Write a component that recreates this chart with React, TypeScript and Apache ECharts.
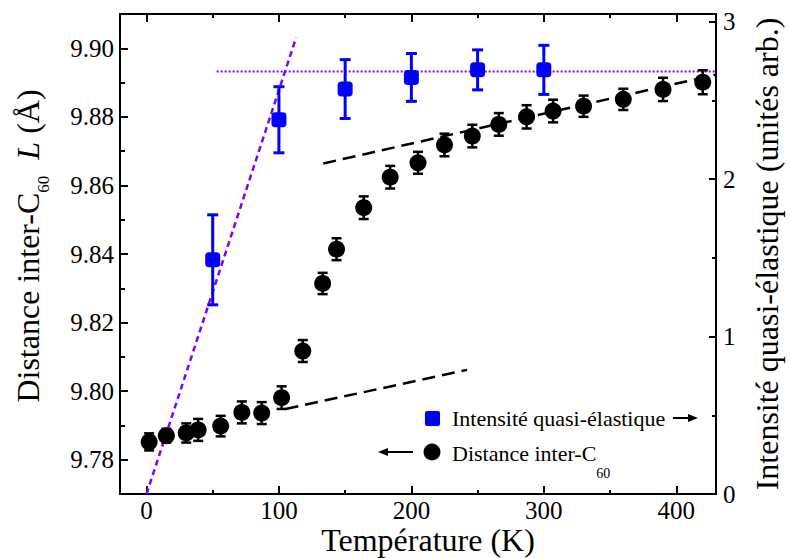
import React, { useEffect, useRef } from "react";
import * as echarts from "echarts";

const FONT = "Liberation Serif";
const PURPLE = "#8000ff";
const BLUE = "#0000ff";

// Distance inter-C60 (left axis)
const tempDistance = [2, 15, 30, 39, 56, 72, 87, 102, 118, 133, 143.5, 164, 184, 205, 225, 246, 266, 287, 307, 330, 360, 390, 420];
const distance = [9.7852, 9.787, 9.7878, 9.7887, 9.7898, 9.7938, 9.7936, 9.7981, 9.8117, 9.8314, 9.8414, 9.8535, 9.8624, 9.8666, 9.8718, 9.8744, 9.8778, 9.88, 9.8817, 9.8831, 9.8851, 9.888, 9.8901];
const distanceErr = [0.0025, 0.002, 0.0028, 0.0032, 0.003, 0.0032, 0.0032, 0.0033, 0.0032, 0.0031, 0.0032, 0.0033, 0.0033, 0.0032, 0.0033, 0.0033, 0.0033, 0.0034, 0.0033, 0.0031, 0.0031, 0.0034, 0.0035];

// Intensité quasi-élastique (right axis)
const tempIntensity = [50, 100, 150, 200, 250, 300];
const intensity = [1.488, 2.378, 2.573, 2.647, 2.695, 2.695];
const intensityErr = [0.286, 0.21, 0.187, 0.152, 0.127, 0.156];

// Guide lines
const lowerFitX = [105, 242];
const lowerFitY = [9.7948, 9.8062];
const upperFitX = [133.5, 430];
const upperFitY = [9.8664, 9.8923];
const steepFitX = [0, 113];
const steepFitY = [0, 2.9];
const plateauX = [53, 430];
const plateauY = [2.685, 2.685];

// Axis ranges and ticks
const X_MIN = -20;
const X_MAX = 430;
const YL_MIN = 9.77;
const YL_MAX = 9.91;
const YR_MIN = 0;
const YR_MAX = 3.05;
const xMajor = [0, 100, 200, 300, 400];
const xMinor = [50, 150, 250, 350];
const yLeftMajor = [9.78, 9.8, 9.82, 9.84, 9.86, 9.88, 9.9];
const yLeftMinor = [9.79, 9.81, 9.83, 9.85, 9.87, 9.89];
const yRightMajor = [0, 1, 2, 3];
const yRightMinor = [0.5, 1.5, 2.5];

const zip = (a: number[], b: number[]) => a.map((v, i) => [v, b[i]]);
const zip3 = (a: number[], b: number[], c: number[]) => a.map((v, i) => [v, b[i], c[i]]);

const axisLineStyle = { color: "#000", width: 2 };

const makeErr = (color: string, width: number, cap: number) => (params: any, api: any) => {
  const x = api.value(0);
  const y = api.value(1);
  const e = api.value(2);
  const t = api.coord([x, y + e]);
  const b = api.coord([x, y - e]);
  const st = { stroke: color, lineWidth: width };
  return {
    type: "group",
    children: [
      { type: "line", shape: { x1: t[0], y1: t[1], x2: b[0], y2: b[1] }, style: st },
      { type: "line", shape: { x1: t[0] - cap / 2, y1: t[1], x2: t[0] + cap / 2, y2: t[1] }, style: st },
      { type: "line", shape: { x1: b[0] - cap / 2, y1: b[1], x2: b[0] + cap / 2, y2: b[1] }, style: st },
    ],
  };
};

const labelStyle = (margin: number, fmt: (v: number) => string, ticks: number[]) => ({
  show: true,
  customValues: ticks,
  color: "#000",
  fontSize: 25,
  fontFamily: FONT,
  margin,
  formatter: fmt,
});

function xAxisDef(position: string, ticks: number[], len: number, showLine: boolean, labels: boolean) {
  const a: any = {
    type: "value",
    position,
    min: X_MIN,
    max: X_MAX,
    splitLine: { show: false },
    axisLine: { show: showLine, onZero: false, lineStyle: axisLineStyle },
    axisTick: { show: true, inside: true, length: len, customValues: ticks, lineStyle: { color: "#000", width: 2 } },
    axisLabel: labels ? labelStyle(4, (v) => String(v), ticks) : { show: false },
    nameMoveOverlap: false,
  };
  return a;
}

function yAxisDef(position: string, min: number, max: number, ticks: number[], len: number, showLine: boolean, labels: boolean, fmt?: (v: number) => string) {
  const a: any = {
    type: "value",
    position,
    min,
    max,
    splitLine: { show: false },
    axisLine: { show: showLine, onZero: false, lineStyle: axisLineStyle },
    axisTick: { show: true, inside: true, length: len, customValues: ticks, lineStyle: { color: "#000", width: 2 } },
    axisLabel: labels ? labelStyle(position === "left" ? 6 : 7, fmt || ((v) => String(v)), ticks) : { show: false },
    nameMoveOverlap: false,
  };
  return a;
}

const xAxes = [
  {
    ...xAxisDef("bottom", xMajor, 8, true, true),
    name: "Température (K)",
    nameLocation: "middle",
    nameGap: 30,
    nameTextStyle: { fontSize: 32, fontFamily: FONT, color: "#000", padding: [0, 0, 0, 20] },
  },
  xAxisDef("top", xMajor, 8, true, false),
  xAxisDef("bottom", xMinor, 4, false, false),
  xAxisDef("top", xMinor, 4, false, false),
];

const yAxes = [
  {
    ...yAxisDef("left", YL_MIN, YL_MAX, yLeftMajor, 8, true, true, (v: number) => v.toFixed(2)),
    name: "{n|Distance inter-C}{s|60}{n|  }{i|L}{n| (Å)}",
    nameLocation: "middle",
    nameRotate: 90,
    nameGap: 68,
    nameTextStyle: {
      color: "#000",
      fontSize: 32,
      fontFamily: FONT,
      padding: [0, 0, 0, 16],
      rich: {
        n: { fontSize: 32, fontFamily: FONT, color: "#000", verticalAlign: "middle" },
        i: { fontSize: 32, fontFamily: FONT, color: "#000", fontStyle: "italic", verticalAlign: "middle" },
        s: { fontSize: 17, fontFamily: FONT, color: "#000", verticalAlign: "middle", padding: [31, 0, 0, 0] },
      },
    },
  },
  {
    ...yAxisDef("right", YR_MIN, YR_MAX, yRightMajor, 7, true, true, (v: number) => String(v)),
    name: "Intensité quasi-élastique (unités arb.)",
    nameLocation: "middle",
    nameRotate: 90,
    nameGap: 35,
    nameTextStyle: { fontSize: 32, fontFamily: FONT, color: "#000" },
  },
  yAxisDef("left", YL_MIN, YL_MAX, yLeftMinor, 5, false, false),
  yAxisDef("right", YR_MIN, YR_MAX, yRightMinor, 4, false, false),
];

const legendGraphics: any[] = [
  { type: "rect", shape: { x: 425, y: 411, width: 15, height: 15, r: 2 }, style: { fill: BLUE } },
  {
    type: "text",
    x: 452,
    y: 418,
    style: {
      text: "Intensité quasi-élastique",
      fill: "#000",
      fontSize: 22,
      fontFamily: FONT,
      align: "left",
      verticalAlign: "middle",
      textAlign: "left",
      textVerticalAlign: "middle",
    },
  },
  { type: "line", shape: { x1: 673, y1: 418, x2: 690, y2: 418 }, style: { stroke: "#000", lineWidth: 2 } },
  { type: "polygon", shape: { points: [[698, 418], [688, 414], [688, 422]] }, style: { fill: "#000" } },
  { type: "polygon", shape: { points: [[378, 452], [388, 448], [388, 456]] }, style: { fill: "#000" } },
  { type: "line", shape: { x1: 386, y1: 452, x2: 413, y2: 452 }, style: { stroke: "#000", lineWidth: 2 } },
  { type: "circle", shape: { cx: 432, cy: 452, r: 8.5 }, style: { fill: "#000" } },
  {
    type: "text",
    x: 452,
    y: 453,
    style: {
      text: "{n|Distance inter-C}{s|60}",
      fill: "#000",
      fontSize: 22,
      fontFamily: FONT,
      align: "left",
      verticalAlign: "middle",
      textAlign: "left",
      textVerticalAlign: "middle",
      rich: {
        n: { fontSize: 22, fontFamily: FONT, fill: "#000", verticalAlign: "middle" },
        s: { fontSize: 14, fontFamily: FONT, fill: "#000", verticalAlign: "middle", padding: [40, 0, 0, 0] },
      },
    },
  },
];

const option: any = {
  animation: false,
  backgroundColor: "#fff",
  textStyle: { fontFamily: FONT, color: "#000" },
  grid: { left: 120, right: 75, top: 14, bottom: 64, containLabel: false, outerBoundsMode: "none" },
  xAxis: xAxes,
  yAxis: yAxes,
  graphic: legendGraphics,
  series: [
    {
      type: "line",
      xAxisIndex: 0,
      yAxisIndex: 0,
      data: zip(lowerFitX, lowerFitY),
      symbol: "none",
      silent: true,
      lineStyle: { color: "#000", width: 2.5, type: [13, 7] },
      z: 1,
    },
    {
      type: "line",
      xAxisIndex: 0,
      yAxisIndex: 0,
      data: zip(upperFitX, upperFitY),
      symbol: "none",
      silent: true,
      lineStyle: { color: "#000", width: 2.5, type: [13, 7] },
      z: 1,
    },
    {
      type: "line",
      xAxisIndex: 0,
      yAxisIndex: 1,
      data: zip(steepFitX, steepFitY),
      symbol: "none",
      silent: true,
      lineStyle: { color: PURPLE, width: 2.5, type: [6, 4] },
      z: 1,
    },
    {
      type: "line",
      xAxisIndex: 0,
      yAxisIndex: 1,
      data: zip(plateauX, plateauY),
      symbol: "none",
      silent: true,
      lineStyle: { color: PURPLE, width: 2, type: [2, 2] },
      z: 1,
    },
    {
      type: "custom",
      xAxisIndex: 0,
      yAxisIndex: 0,
      data: zip3(tempDistance, distance, distanceErr),
      encode: { x: 0, y: 1 },
      renderItem: makeErr("#000", 2.5, 10),
      silent: true,
      z: 3,
    },
    {
      type: "scatter",
      xAxisIndex: 0,
      yAxisIndex: 0,
      name: "Distance inter-C60",
      data: zip(tempDistance, distance),
      symbol: "circle",
      symbolSize: 17,
      itemStyle: { color: "#000", opacity: 1 },
      z: 4,
    },
    {
      type: "custom",
      xAxisIndex: 0,
      yAxisIndex: 1,
      data: zip3(tempIntensity, intensity, intensityErr),
      encode: { x: 0, y: 1 },
      renderItem: makeErr(BLUE, 3, 11),
      silent: true,
      z: 3,
    },
    {
      type: "scatter",
      xAxisIndex: 0,
      yAxisIndex: 1,
      name: "Intensité quasi-élastique",
      data: zip(tempIntensity, intensity),
      symbol: "roundRect",
      symbolSize: 15,
      itemStyle: { color: BLUE, opacity: 1 },
      z: 4,
    },
  ],
};

export default function App() {
  const ref = useRef<HTMLDivElement>(null);
  useEffect(() => {
    document.body.style.margin = "0";
    const chart = echarts.init(ref.current!, null, { renderer: "svg" });
    chart.setOption(option);
    return () => chart.dispose();
  }, []);
  return <div ref={ref} style={{ width: 791, height: 558 }} />;
}
